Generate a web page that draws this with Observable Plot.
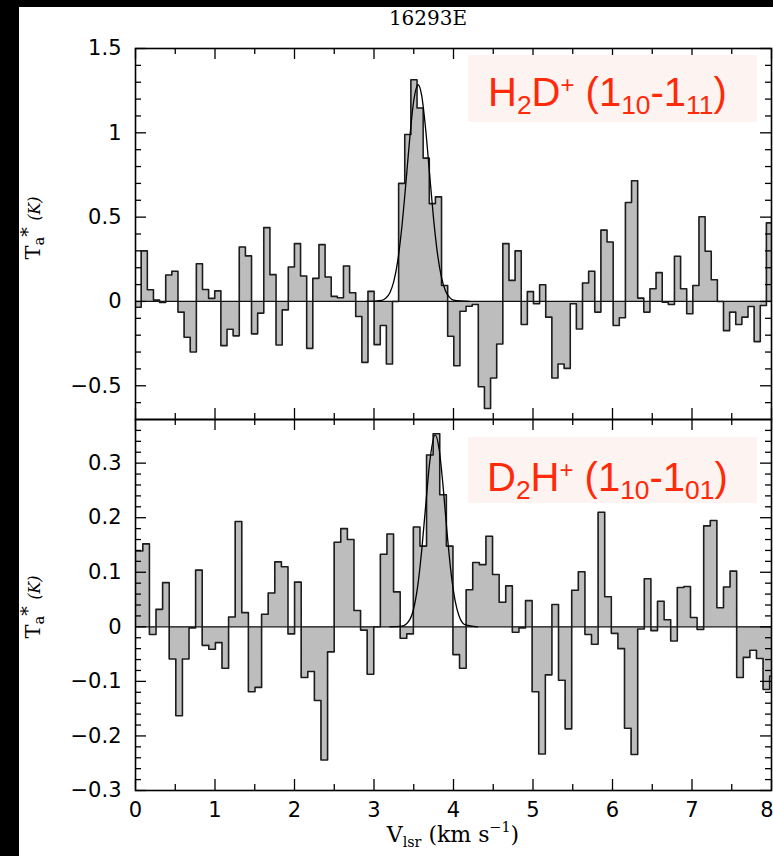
<!DOCTYPE html>
<html><head><meta charset="utf-8">
<script src="https://cdn.jsdelivr.net/npm/d3@7"></script>
<script src="https://cdn.jsdelivr.net/npm/@observablehq/plot@0.6"></script>
<style>
html,body{margin:0;padding:0;background:#000;}
#page{position:relative;width:773px;height:856px;background:#000;overflow:hidden;}
#white{position:absolute;left:19px;top:7px;width:754px;height:849px;background:#fff;}
.plotbox{position:absolute;left:19px;}
.plotbox svg{overflow:visible;}
.ov{position:absolute;white-space:nowrap;color:#000;}
.title{font-family:"DejaVu Serif","Liberation Serif",serif;font-size:20px;}
.ann{position:absolute;background:#fdf4f2;}
.anntext{position:absolute;font-family:"Liberation Sans",Arial,sans-serif;font-size:40px;color:#ff2a0a;white-space:nowrap;line-height:1;}
.anntext sub{font-size:0.66em;vertical-align:-0.3em;line-height:0;}
.anntext sup{font-size:0.6em;vertical-align:0.55em;line-height:0;}
.ylab{font-family:"DejaVu Serif","Liberation Serif",serif;font-size:21px;transform:translate(-50%,-50%) rotate(-90deg);}
.ylab sub{font-size:0.7em;vertical-align:-0.25em;line-height:0;}
.ylab sup{font-size:0.9em;vertical-align:0.3em;line-height:0;}
.ylab i{font-size:0.75em;}
.xlab{font-family:"DejaVu Serif","Liberation Serif",serif;font-size:22px;transform:translateX(-50%);}
.xlab sub{font-size:0.65em;vertical-align:-0.35em;line-height:0;}
.xlab sup{font-size:0.65em;vertical-align:0.7em;line-height:0;}
</style></head><body>
<div id="page">
  <div id="white"></div>
  <div class="plotbox" id="topPlot" style="top:7px"></div>
  <div class="plotbox" id="botPlot" style="top:412px"></div>
  <div class="ov title" style="left:428px;top:6px;transform:translateX(-50%);">16293E</div>
  <div class="ann" style="left:468px;top:55px;width:289px;height:67px;"></div>
  <div class="anntext" style="left:488px;top:72px;">H<sub>2</sub>D<sup>+</sup> (1<sub>10</sub>-1<sub>11</sub>)</div>
  <div class="ann" style="left:468px;top:437px;width:289px;height:66px;"></div>
  <div class="anntext" style="left:487px;top:457px;">D<sub>2</sub>H<sup>+</sup> (1<sub>10</sub>-1<sub>01</sub>)</div>
  <div class="ov ylab" style="left:33px;top:228px;">T<sub>a</sub><sup>*</sup> <i>(K)</i></div>
  <div class="ov ylab" style="left:33px;top:607px;">T<sub>a</sub><sup>*</sup> <i>(K)</i></div>
  <div class="ov xlab" style="left:453px;top:822px;">V<sub>lsr</sub> (km s<sup>−1</sup>)</div>
</div>
<script>
// ---- data: H2D+ spectrum (channel width ~0.0771 km/s, first channel edge -0.0055)
const topV0 = -0.0055, topDV = 0.0771;
const topValues = [
 -0.034, 0.30, 0.069, 0.008, -0.006, 0.157, 0.179, -0.063, -0.212, -0.30,
 0.224, 0.071, 0.018, 0.063, -0.262, -0.165, -0.204, 0.323, 0.27, -0.192,
 -0.069, 0.438, 0.159, -0.258, -0.05, 0.204, 0.343, 0.151, -0.278, 0.137,
 0.337, 0.145, 0.03, 0.022, 0.21, 0.052, -0.089, -0.361, 0.06, -0.256,
 -0.143, -0.371, 0.0, 0.70, 0.99, 1.315, 1.147, 0.85, 0.58, 0.62,
 0.095, -0.206, -0.381, -0.058, -0.028, -0.018, -0.506, -0.635, -0.454, -0.252,
 0.343, 0.125, 0.30, -0.137, 0.058, -0.014, 0.099, -0.093, -0.454, -0.371,
 -0.397, -0.014, -0.163, 0.109, 0.179, -0.063, 0.423, 0.353, -0.143, -0.097,
 0.587, 0.716, 0.02, -0.063, 0.075, 0.171, -0.004, -0.018, 0.268, 0.075,
 -0.073, 0.095, 0.502, 0.298, 0.129, 0.0, -0.173, -0.063, -0.137, -0.093,
 -0.03, -0.238, -0.024, 0.466
];
const topFitV = [2.9, 3.1, 3.15, 3.2, 3.25, 3.3, 3.35, 3.4, 3.45, 3.5, 3.555, 3.6, 3.65, 3.7, 3.75, 3.8, 3.85, 3.9, 3.95, 4.0, 4.2];
const topFitT = [0, 0.007, 0.02, 0.052, 0.12, 0.245, 0.44, 0.696, 0.97, 1.19, 1.285, 1.22, 1.02, 0.752, 0.487, 0.278, 0.14, 0.062, 0.024, 0.008, 0];

// ---- data: D2H+ spectrum (channel width ~0.083 km/s, first channel edge 0.009)
const botV0 = 0.009, botDV = 0.083;
const botValues = [
 0.139, 0.152, -0.014, 0.032, 0.081, -0.059, -0.163, -0.059, -0.002, 0.104,
 -0.034, -0.041, -0.029, -0.076, 0.018, 0.193, 0.026, -0.119, -0.111, 0.023,
 0.062, 0.119, 0.110, -0.013, 0.082, -0.093, -0.082, -0.135, -0.244, -0.046,
 0.155, 0.18, 0.16, 0.03, -0.006, -0.087, 0.0, 0.133, 0.17, 0.064,
 -0.021, -0.013, 0.183, 0.148, 0.315, 0.354, 0.242, 0.148, -0.051, -0.076,
 0.068, 0.118, 0.114, 0.166, 0.096, 0.045, 0.075, -0.010, -0.002, 0.048,
 -0.119, -0.233, -0.088, 0.041, -0.098, -0.187, 0.067, 0.101, -0.014, -0.032,
 0.21, 0.055, -0.012, -0.040, -0.186, -0.234, -0.004, 0.088, -0.007, 0.047,
 0.013, -0.026, 0.072, 0.074, 0.017, -0.005, 0.185, 0.195, 0.035, 0.073,
 0.102, -0.093, -0.056, -0.043, -0.058, -0.115, -0.09
];
const botFitV = [3.2, 3.35, 3.45, 3.5, 3.55, 3.6, 3.65, 3.7, 3.77, 3.82, 3.87, 3.92, 3.97, 4.02, 4.07, 4.15, 4.3];
const botFitT = [0, 0.0013, 0.0133, 0.034, 0.075, 0.14, 0.222, 0.301, 0.352, 0.325, 0.256, 0.171, 0.098, 0.048, 0.020, 0.0035, 0];

// ---- ticks
const xMajor = [0, 1, 2, 3, 4, 5, 6, 7, 8];
const xLabels = ["0", "1", "2", "3", "4", "5", "6", "7", "8"];
const xMinor = [0.5, 1.5, 2.5, 3.5, 4.5, 5.5, 6.5, 7.5];
const topYMajor = [-0.5, 0, 0.5, 1, 1.5];
const topYLabels = ["\u22120.5", "0", "0.5", "1", "1.5"];
const topYMinor = [-0.6, -0.4, -0.3, -0.2, -0.1, 0.1, 0.2, 0.3, 0.4, 0.6, 0.7, 0.8, 0.9, 1.1, 1.2, 1.3, 1.4];
const botYMajor = [-0.3, -0.2, -0.1, 0, 0.1, 0.2, 0.3];
const botYLabels = ["\u22120.3", "\u22120.2", "\u22120.1", "0", "0.1", "0.2", "0.3"];
const botYMinor = [-0.28, -0.26, -0.24, -0.22, -0.18, -0.16, -0.14, -0.12, -0.08, -0.06, -0.04, -0.02,
  0.02, 0.04, 0.06, 0.08, 0.12, 0.14, 0.16, 0.18, 0.22, 0.24, 0.26, 0.28, 0.32, 0.34, 0.36];

const FONT = "DejaVu Sans";
function panel(o) {
  const W = 754, mL = 116, mR = 2;
  const fw = W - mL - mR, fh = o.height - o.marginTop - o.marginBottom;
  const n = o.values.length;
  const steps = o.values.map((t, i) => ({v: o.v0 + i * o.dv, t}));
  steps.push({v: o.v0 + n * o.dv, t: o.values[n - 1]});
  const fit = o.fitV.map((v, i) => ({v, t: o.fitT[i]}));
  const tk = {stroke: "#000", strokeWidth: 1.3};
  const marks = [
    Plot.areaY(steps, {x: "v", y: "t", curve: "step-after", fill: "#bdbdbd", clip: true}),
    Plot.ruleY([0], {stroke: "#111", strokeWidth: 1.2}),
    Plot.lineY(steps, {x: "v", y: "t", curve: "step-after", stroke: "#1c1c1c", strokeWidth: 1.6, clip: true}),
    Plot.line(fit, {x: "v", y: "t", curve: "monotone-x", stroke: "#000", strokeWidth: 1.3, clip: true}),
    Plot.tickX(xMajor, {x: d => d, insetTop: fh - 11, ...tk}),
    Plot.tickX(xMajor, {x: d => d, insetBottom: fh - 11, ...tk}),
    Plot.tickX(xMinor, {x: d => d, insetTop: fh - 6, ...tk}),
    Plot.tickX(xMinor, {x: d => d, insetBottom: fh - 6, ...tk}),
    Plot.tickY(o.yMajor, {y: d => d, insetRight: fw - 11, ...tk}),
    Plot.tickY(o.yMajor, {y: d => d, insetLeft: fw - 11, ...tk}),
    Plot.tickY(o.yMinor, {y: d => d, insetRight: fw - 6, ...tk}),
    Plot.tickY(o.yMinor, {y: d => d, insetLeft: fw - 6, ...tk}),
    Plot.text(o.yMajor, {y: d => d, text: (d, i) => o.yLabels[i], frameAnchor: "left", textAnchor: "end", dx: -14, fontSize: 21, fontFamily: FONT, fill: "#000"}),
    Plot.frame({stroke: "#000", strokeWidth: 1.6})
  ];
  if (o.showX) {
    const inner = xMajor.slice(0, -1);
    marks.push(Plot.text(inner, {x: d => d, text: (d, i) => xLabels[i], frameAnchor: "bottom", dy: 26, fontSize: 21, fontFamily: FONT, fill: "#000"}));
    // last label ("8") sits at the right frame edge; anchored so it stays inside the page
    marks.push(Plot.text(xMajor.slice(-1), {x: d => d, text: () => xLabels[xLabels.length - 1], frameAnchor: "bottom", dy: 26, dx: 2, textAnchor: "end", fontSize: 21, fontFamily: FONT, fill: "#000"}));
  }
  return Plot.plot({
    width: W, height: o.height,
    marginLeft: mL, marginRight: mR, marginTop: o.marginTop, marginBottom: o.marginBottom,
    style: {background: "transparent", overflow: "visible"},
    x: {domain: [0, 8], axis: null},
    y: {domain: o.yDomain, axis: null},
    marks
  });
}

document.getElementById("topPlot").append(panel({
  values: topValues, v0: topV0, dv: topDV, fitV: topFitV, fitT: topFitT,
  yDomain: [-0.7, 1.5], yMajor: topYMajor, yLabels: topYLabels, yMinor: topYMinor,
  height: 420, marginTop: 41, marginBottom: 8, showX: false
}));
document.getElementById("botPlot").append(panel({
  values: botValues, v0: botV0, dv: botDV, fitV: botFitV, fitT: botFitT,
  yDomain: [-0.3, 0.38], yMajor: botYMajor, yLabels: botYLabels, yMinor: botYMinor,
  height: 444, marginTop: 7, marginBottom: 66, showX: true
}));
</script>
</body></html>
